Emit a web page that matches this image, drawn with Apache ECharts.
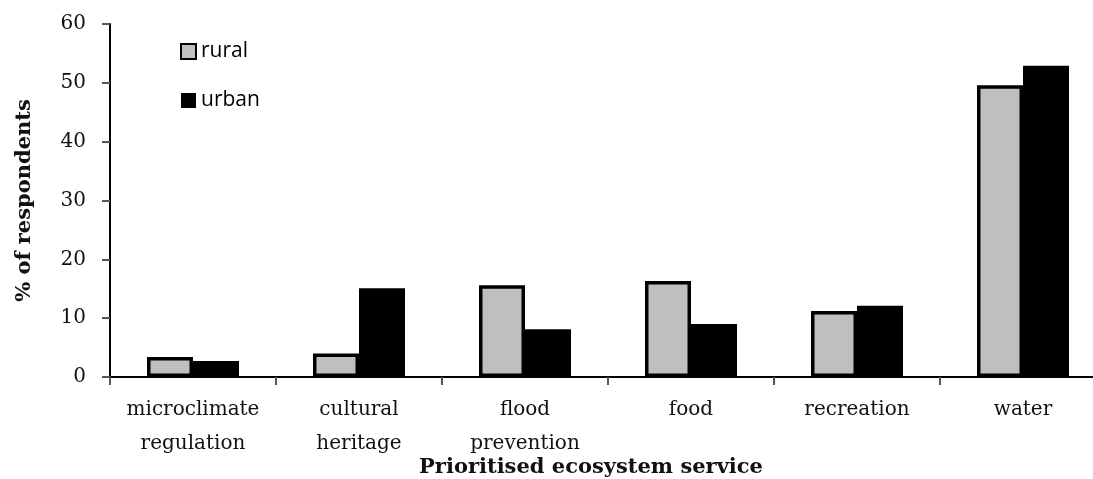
<!DOCTYPE html>
<html>
<head>
<meta charset="utf-8">
<script src="https://cdn.jsdelivr.net/npm/echarts@6/dist/echarts.min.js"></script>
<style>
html,body{margin:0;padding:0;background:#fff;overflow:hidden;}
#chart{width:1093px;height:479px;}
</style>
</head>
<body>
<div id="chart"></div>
<script>
const categories = ["microclimate\nregulation", "cultural\nheritage", "flood\nprevention", "food", "recreation", "water"];
const rural = [3.4, 4.0, 15.6, 16.3, 11.2, 49.6];
const urban = [2.7, 15.1, 8.1, 9.0, 12.1, 52.9];
const yTicks = { min: 0, max: 60, interval: 10 };

const serif = "DejaVu Serif";
const chart = echarts.init(document.getElementById('chart'), null, { renderer: 'canvas', width: 1093, height: 479 });
chart.setOption({
  animation: false,
  backgroundColor: '#ffffff',
  grid: { left: 110, top: 24, width: 996, height: 353, containLabel: false, outerBoundsMode: 'none' },
  legend: {
    orient: 'vertical',
    left: 175,
    top: 36,
    icon: 'rect',
    itemWidth: 15,
    itemHeight: 15,
    itemGap: 28,
    textStyle: { fontFamily: 'Open Sans', fontSize: 21, color: '#000' },
    data: ['rural', 'urban']
  },
  xAxis: {
    type: 'category',
    data: categories,
    axisLine: { lineStyle: { color: '#000', width: 2 } },
    axisTick: { show: true, length: 8, lineStyle: { color: '#555', width: 2 } },
    axisLabel: { fontFamily: serif, fontSize: 20, color: '#111', margin: 16, lineHeight: 34, interval: 0 },
    name: 'Prioritised ecosystem service',
    nameLocation: 'middle',
    nameGap: 80,
    nameMoveOverlap: false,
    nameTextStyle: { fontFamily: serif, fontSize: 21, fontWeight: 'bold', color: '#111', padding: [0, 34, 0, 0] }
  },
  yAxis: {
    type: 'value',
    min: yTicks.min,
    max: yTicks.max,
    interval: yTicks.interval,
    axisLine: { show: true, lineStyle: { color: '#000', width: 2 } },
    axisTick: { show: true, length: 8, lineStyle: { color: '#555', width: 2 } },
    splitLine: { show: false },
    axisLabel: { fontFamily: serif, fontSize: 20, color: '#111', margin: 24 },
    name: '% of respondents',
    nameLocation: 'middle',
    nameGap: 75,
    nameMoveOverlap: false,
    nameTextStyle: { fontFamily: serif, fontSize: 21, fontWeight: 'bold', color: '#111' }
  },
  series: [
    {
      name: 'rural', type: 'bar', data: rural,
      barWidth: 46, barGap: '0%',
      itemStyle: { color: '#bfbfbf', borderColor: '#000', borderWidth: 3.5 }
    },
    {
      name: 'urban', type: 'bar', data: urban,
      barWidth: 46, barGap: '0%',
      itemStyle: { color: '#000' }
    }
  ]
});
</script>
</body>
</html>
